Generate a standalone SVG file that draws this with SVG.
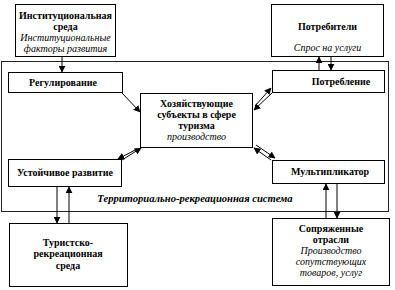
<svg xmlns="http://www.w3.org/2000/svg" width="395" height="290" viewBox="0 0 395 290">
<style>
.box{fill:#fff;stroke:#000;stroke-width:1}
.outer{fill:none;stroke:#222;stroke-width:1}
.t{font-family:"Liberation Serif","DejaVu Serif",serif;font-size:10px;font-weight:bold;text-anchor:middle;fill:#000}
.i{font-family:"Liberation Serif","DejaVu Serif",serif;font-size:10px;font-style:italic;text-anchor:middle;fill:#000}
.bi{font-family:"Liberation Serif","DejaVu Serif",serif;font-size:10.6px;font-style:italic;font-weight:bold;text-anchor:middle;fill:#000}
.c{stroke:#000;stroke-width:1;fill:none;marker-end:url(#ah)}
</style>
<defs>
<marker id="ah" viewBox="0 0 10 10" refX="9" refY="5" markerWidth="7" markerHeight="7" markerUnits="userSpaceOnUse" orient="auto">
<path d="M0,0 L10,5 L0,10 z" fill="#000"/>
</marker>
</defs>
<g id="system">
<rect class="outer" x="1.5" y="61.5" width="387" height="150"/>
<text class="bi" x="195" y="202">Территориально-рекреационная система</text>
</g>
<g id="institutional">
<rect class="box" x="15.5" y="4.5" width="100" height="52"/>
<text class="t" x="65.5" y="19">Институциональная</text>
<text class="t" x="65.5" y="30">среда</text>
<text class="i" x="65.5" y="41">Институциональные</text>
<text class="i" x="65.5" y="52">факторы развития</text>
</g>
<g id="consumers">
<rect class="box" x="271.5" y="4.5" width="112" height="52"/>
<text class="t" x="327.5" y="30">Потребители</text>
<text class="i" x="327.5" y="51">Спрос на услуги</text>
</g>
<g id="regulation">
<rect class="box" x="8.5" y="72.5" width="114" height="20"/>
<text class="t" x="63" y="86">Регулирование</text>
</g>
<g id="consumption">
<rect class="box" x="272.5" y="70.5" width="112" height="22"/>
<text class="t" x="341" y="85">Потребление</text>
</g>
<g id="subjects">
<rect class="box" x="140.5" y="93.5" width="112" height="54"/>
<text class="t" x="196.5" y="107">Хозяйствующие</text>
<text class="t" x="196.5" y="118">субъекты в сфере</text>
<text class="t" x="196.5" y="129">туризма</text>
<text class="i" x="196.5" y="140">производство</text>
</g>
<g id="sustainable">
<rect class="box" x="8.5" y="159.5" width="113" height="27"/>
<text class="t" x="65" y="176">Устойчивое развитие</text>
</g>
<g id="multiplier">
<rect class="box" x="272.5" y="160.5" width="112" height="23"/>
<text class="t" x="330" y="175">Мультипликатор</text>
</g>
<g id="environment">
<rect class="box" x="9.5" y="223.5" width="118" height="63"/>
<text class="t" x="68" y="246">Туристско-</text>
<text class="t" x="68" y="257">рекреационная</text>
<text class="t" x="68" y="269">среда</text>
</g>
<g id="related">
<rect class="box" x="272.5" y="218.5" width="117" height="67"/>
<text class="t" x="331" y="232">Сопряженные</text>
<text class="t" x="331" y="243">отрасли</text>
<text class="i" x="331" y="254">Производство</text>
<text class="i" x="331" y="265">сопутствующих</text>
<text class="i" x="331" y="276">товаров, услуг</text>
</g>
<g id="connectors">
<line class="c" x1="62" y1="56.5" x2="62" y2="72"/>
<line class="c" x1="319" y1="70" x2="319" y2="57"/>
<line class="c" x1="331" y1="57" x2="331" y2="70"/>
<line class="c" x1="122" y1="93" x2="140" y2="112"/>
<line class="c" x1="255" y1="106" x2="271" y2="88"/>
<line class="c" x1="273" y1="92" x2="254" y2="110"/>
<line class="c" x1="137" y1="149" x2="118" y2="159"/>
<line class="c" x1="122" y1="160" x2="141" y2="148"/>
<line class="c" x1="271" y1="160" x2="254" y2="148"/>
<line class="c" x1="256" y1="145" x2="275" y2="158"/>
<line class="c" x1="57" y1="187" x2="57" y2="223"/>
<line class="c" x1="69" y1="223" x2="69" y2="187"/>
<line class="c" x1="326" y1="218" x2="326" y2="184"/>
<line class="c" x1="337" y1="184" x2="337" y2="218"/>
</g>
</svg>
